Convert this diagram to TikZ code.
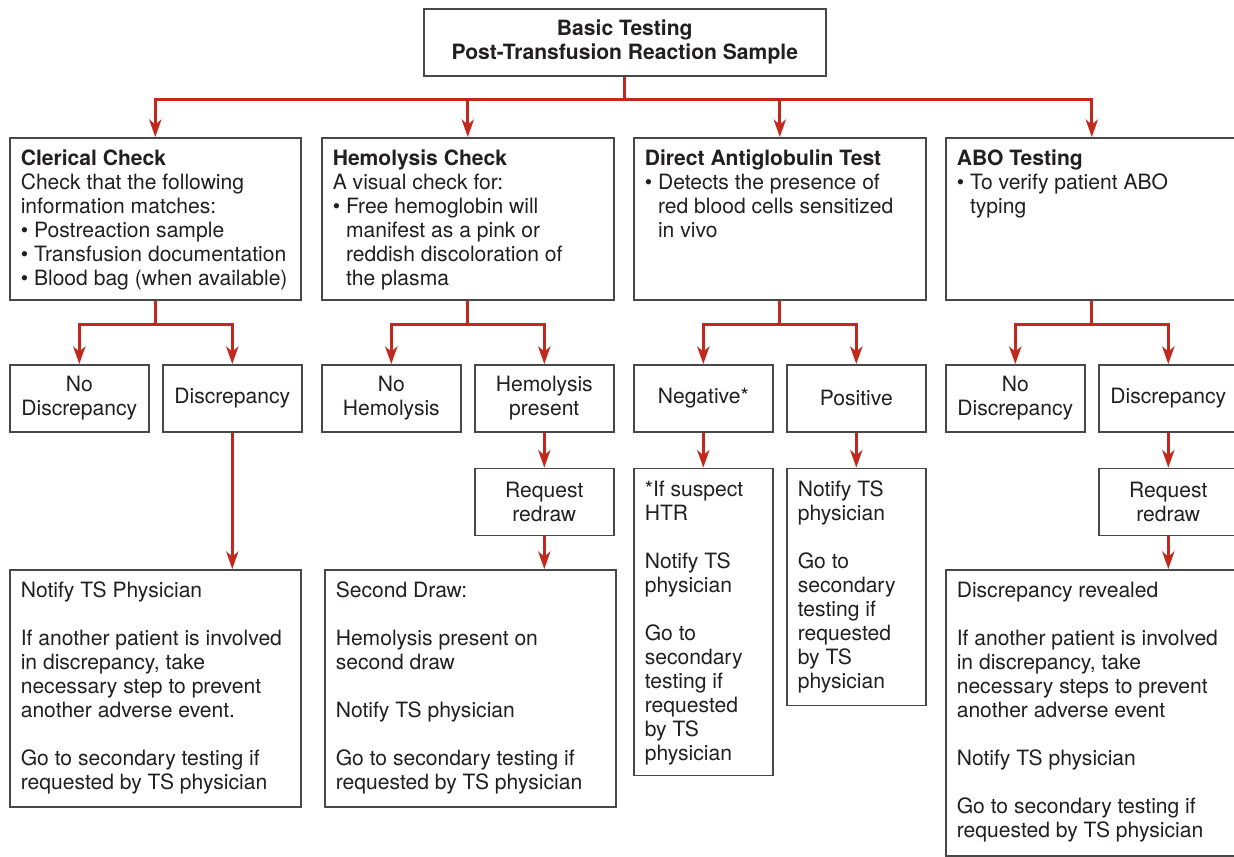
\documentclass[tikz,border=0pt]{standalone}
\usepackage{fontspec}
\setmainfont{TeX Gyre Heros}
\usetikzlibrary{arrows.meta,positioning}

\definecolor{framegray}{RGB}{72,72,72}
\definecolor{flowred}{RGB}{196,40,28}
\definecolor{inkgray}{RGB}{35,31,32}

\newlength\pix \setlength\pix{0.02cm}
\newcommand\bodyfont{\fontsize{12pt}{13.66pt}\selectfont}
\newcommand\pbul{\textbullet\ }
\newcommand\pbulhang{\hphantom{\textbullet\ }}
\newcommand\skipline{\\[\baselineskip]}

\begin{document}
\begin{tikzpicture}[%
    x=0.02cm, y=-0.02cm,       % one unit is one pixel, y runs downwards
    >={Stealth[length=10pt, width=7pt, inset=3pt]},
    node distance=35*\pix,     % gap between stacked boxes
    ]
% -------------------------------------------------
% Box and connector styles
\tikzset{
  base/.style={draw=framegray, line width=0.9pt, text=inkgray, font=\bodyfont, inner sep=0pt},
  head/.style={base, anchor=north west, align=center,
    minimum width=402*\pix, minimum height=67*\pix, font=\bodyfont\bfseries},
  choice/.style={base, anchor=north west, align=center,
    minimum width=139*\pix, minimum height=67*\pix},
  % fixed size box, text sits at the top left
  panel/.style 2 args={base, anchor=north west, inner xsep=4*\pix, inner ysep=11*\pix,
    execute at begin node={\begin{minipage}[t][\dimexpr#2\pix-22\pix\relax][t]{\dimexpr#1\pix-8\pix\relax}%
      \bodyfont\raggedright\leftskip=7\pix\strut},
    execute at end node={\end{minipage}}},
  wire/.style={draw=flowred, line width=1.5pt},
  link/.style={wire, ->},
}
\useasboundingbox (0,0) rectangle (1234,856);
\clip (0,0) rectangle (1234,856);
% -------------------------------------------------
% Top of the tree and the four basic tests
\node [head] (root) at (423,8) {Basic Testing\\Post-Transfusion Reaction Sample};

\node [panel={291}{162}] (clerical) at (9,137)
  {\textbf{Clerical Check}\\Check that the following\\information matches:\\
   \pbul Postreaction sample\\\pbul Transfusion documentation\\\pbul Blood bag (when available)};
\node [panel={292}{162}] (hemolysis) at (321,137)
  {\textbf{Hemolysis Check}\\A visual check for:\\\pbul Free hemoglobin will\\
   \pbulhang manifest as a pink or\\\pbulhang reddish discoloration of\\\pbulhang the plasma};
\node [panel={292}{162}] (dat) at (633,137)
  {\textbf{Direct Antiglobulin Test}\\\pbul Detects the presence of\\
   \pbulhang red blood cells sensitized\\\pbulhang in vivo};
\node [panel={292}{162}] (abo) at (945,137)
  {\textbf{ABO Testing}\\\pbul To verify patient ABO\\\pbulhang typing};

% Outcomes
\node [choice] (clno)   at (9,364)    {No\\Discrepancy};
\node [choice] (clyes)  at (162,364)  {Discrepancy};
\node [choice] (heno)   at (321,364)  {No\\Hemolysis};
\node [choice] (heyes)  at (474,364)  {Hemolysis\\present};
\node [choice] (datneg) at (633,364)  {Negative*};
\node [choice] (datpos) at (786,364)  {Positive};
\node [choice] (abono)  at (945,364)  {No\\Discrepancy};
\node [choice] (aboyes) at (1098,364) {Discrepancy};

% Follow-up steps
\node [choice, below=of heyes] (heredraw) {Request\\redraw};
\node [choice, below=of aboyes] (aboredraw) {Request\\redraw};
\node [panel={139}{307}, below=of datneg] (negnote)
  {*If suspect\\HTR\skipline Notify TS\\physician\skipline
   Go to\\secondary\\testing if\\requested\\by TS\\physician};
\node [panel={139}{237}, below=of datpos] (posnote)
  {Notify TS\\physician\skipline Go to\\secondary\\testing if\\requested\\by TS\\physician};

\node [panel={291}{237}] (clnote) at (9,569)
  {Notify TS Physician\skipline If another patient is involved\\in discrepancy, take\\
   necessary step to prevent\\another adverse event.\skipline
   Go to secondary testing if\\requested by TS physician};
\node [panel={291}{237}] (hesecond) at (324,569)
  {Second Draw:\skipline Hemolysis present on\\second draw\skipline
   Notify TS physician\skipline Go to secondary testing if\\requested by TS physician};
\node [panel={292}{286}] (abonote) at (945,569)
  {Discrepancy revealed\skipline If another patient is involved\\in discrepancy, take\\
   necessary steps to prevent\\another adverse event\skipline Notify TS physician\skipline
   Go to secondary testing if\\requested by TS physician};

% -------------------------------------------------
% Connectors
\coordinate (bus) at ([yshift=-23*\pix]root.south);
\draw [wire] (root.south) -- (bus);
\foreach \col in {clerical,hemolysis,dat,abo}
  \draw [link] (bus) -| (\col.north);

\foreach \col/\lft/\rgt in {clerical/clno/clyes, hemolysis/heno/heyes,
                            dat/datneg/datpos, abo/abono/aboyes} {
  \draw [link] (\col.south) -- ++(0,24) -| (\lft.north);
  \draw [link] (\col.south) -- ++(0,24) -| (\rgt.north);
}

\draw [link] (clyes.south) -- (clyes.south |- clnote.north);
\draw [link] (heyes) -- (heredraw);
\draw [link] (heredraw.south) -- (heredraw.south |- hesecond.north);
\draw [link] (datneg) -- (negnote);
\draw [link] (datpos) -- (posnote);
\draw [link] (aboyes) -- (aboredraw);
\draw [link] (aboredraw.south) -- (aboredraw.south |- abonote.north);
% -------------------------------------------------
\end{tikzpicture}
\end{document}
